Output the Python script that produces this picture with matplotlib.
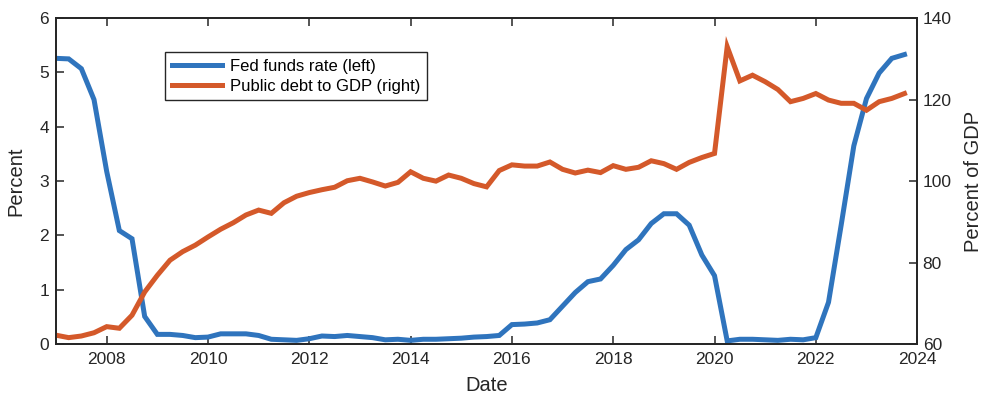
import numpy as np
import matplotlib.pyplot as plt

plt.rcParams['font.family'] = ['Liberation Sans', 'DejaVu Sans']

# quarterly, 2007Q1 .. 2023Q4
start_year = 2007
fed_funds = [5.26, 5.25, 5.07, 4.50,
             3.18, 2.09, 1.94, 0.51,
             0.18, 0.18, 0.16, 0.12,
             0.13, 0.19, 0.19, 0.19,
             0.16, 0.09, 0.08, 0.07,
             0.10, 0.15, 0.14, 0.16,
             0.14, 0.12, 0.08, 0.09,
             0.07, 0.09, 0.09, 0.10,
             0.11, 0.13, 0.14, 0.16,
             0.36, 0.37, 0.39, 0.45,
             0.70, 0.95, 1.15, 1.20,
             1.45, 1.74, 1.92, 2.22,
             2.40, 2.40, 2.19, 1.64,
             1.26, 0.06, 0.09, 0.09,
             0.08, 0.07, 0.09, 0.08,
             0.12, 0.77, 2.19, 3.65,
             4.52, 4.99, 5.26, 5.33]
debt_gdp = [62.2, 61.6, 62.0, 62.8,
            64.3, 63.9, 67.1, 72.8,
            76.9, 80.6, 82.7, 84.3,
            86.3, 88.2, 89.8, 91.7,
            92.9, 92.1, 94.7, 96.3,
            97.2, 97.9, 98.5, 100.1,
            100.7, 99.8, 98.8, 99.7,
            102.3, 100.7, 100.0, 101.5,
            100.7, 99.4, 98.6, 102.6,
            104.0, 103.7, 103.7, 104.7,
            102.9, 102.0, 102.7, 102.1,
            103.8, 102.9, 103.4, 105.0,
            104.3, 102.9, 104.6, 105.8,
            106.8, 133.0, 124.6, 126.0,
            124.4, 122.5, 119.5, 120.3,
            121.5, 119.9, 119.1, 119.1,
            117.4, 119.5, 120.3, 121.5]
dates = start_year + np.arange(len(fed_funds)) / 4.0

blue = '#2f74bd'
orange = '#d4592a'
dark = '#262626'

fig = plt.figure(figsize=(9.83, 4.03), dpi=100)
ax = fig.add_axes([0.057, 0.146, 0.876, 0.809])
ax2 = ax.twinx()

l1, = ax.plot(dates, fed_funds, color=blue, lw=3.6, solid_joinstyle='miter')
l2, = ax2.plot(dates, debt_gdp, color=orange, lw=3.6, solid_joinstyle='miter')

ax.set_xlim(2007, 2024)
ax.set_ylim(0, 6)
ax2.set_ylim(60, 140)
ax.set_xticks(np.arange(2008, 2025, 2))
ax.set_yticks(np.arange(0, 7, 1))
ax2.set_yticks(np.arange(60, 141, 20))

ax.tick_params(axis='x', direction='in', top=True, length=6, width=1.1,
               labelsize=12.5, colors=dark, pad=6)
ax.tick_params(axis='y', direction='in', length=6, width=1.1,
               labelsize=12.5, colors=dark, pad=5)
ax2.tick_params(axis='y', direction='in', length=6, width=1.1,
                labelsize=12.5, colors=dark, pad=4)
for a in (ax, ax2):
    for s in a.spines.values():
        s.set_color(dark)
        s.set_linewidth(1.3)

ax.set_xlabel('Date', fontsize=14.5, color=dark, labelpad=6)
ax.set_ylabel('Percent', fontsize=14.5, color=dark, labelpad=10)
ax2.set_ylabel('Percent of GDP', fontsize=14.5, color=dark, labelpad=9)

leg = ax2.legend([l1, l2], ['Fed funds rate (left)', 'Public debt to GDP (right)'],
                 loc='upper left', bbox_to_anchor=(0.127, 0.896), borderaxespad=0,
                 fontsize=12, fancybox=False, handlelength=3.0, handletextpad=0.5,
                 borderpad=0.4, labelspacing=0.3, framealpha=1)
leg.get_frame().set_edgecolor(dark)
leg.get_frame().set_linewidth(1.0)

fig.savefig('out.png', dpi=100)
